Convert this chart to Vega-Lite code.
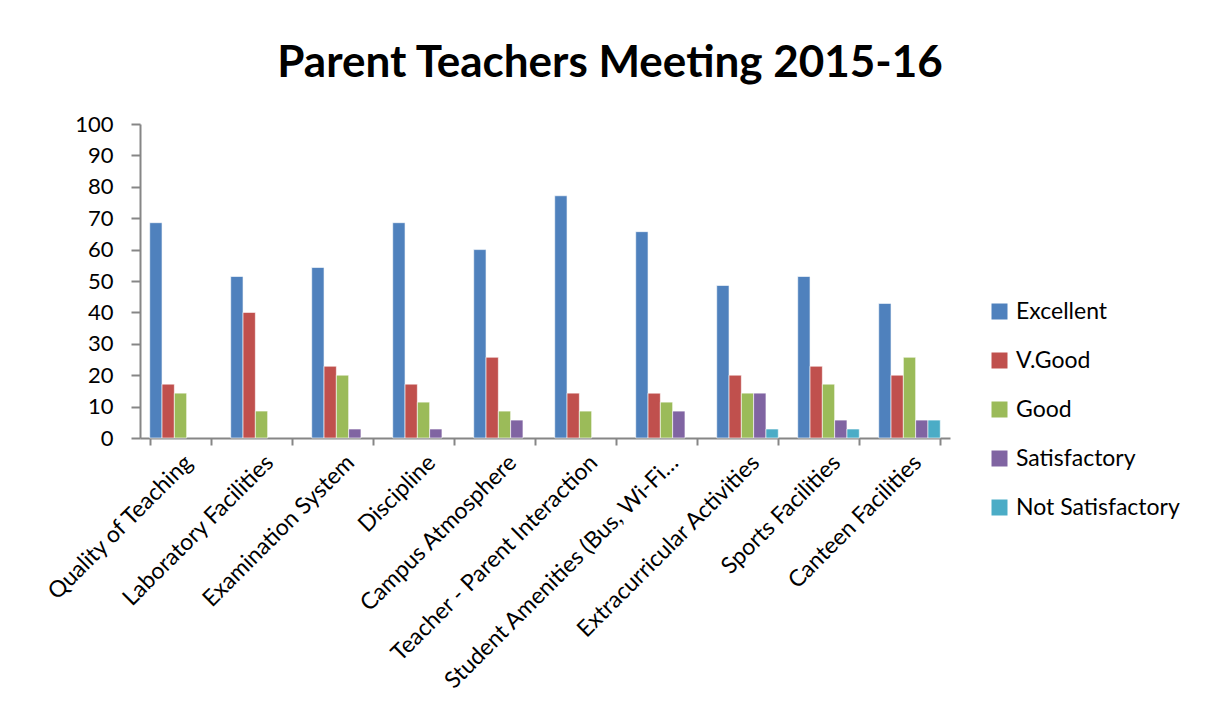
{
  "$schema": "https://vega.github.io/schema/vega-lite/v6.json",
  "autosize": {"type": "none"},
  "width": 810,
  "height": 314,
  "padding": {"left": 140, "top": 124, "right": 257, "bottom": 275},
  "background": "white",
  "title": {
    "text": "Parent Teachers Meeting 2015-16",
    "font": "Lato",
    "fontSize": 44,
    "fontWeight": "bold",
    "color": "#000000",
    "anchor": "middle",
    "frame": "group",
    "dx": 65,
    "offset": 27
  },
  "data": {
    "values": [
      {"category": "Quality of Teaching", "rating": "Excellent", "value": 68.57},
      {"category": "Quality of Teaching", "rating": "V.Good", "value": 17.14},
      {"category": "Quality of Teaching", "rating": "Good", "value": 14.29},
      {"category": "Laboratory Facilities", "rating": "Excellent", "value": 51.43},
      {"category": "Laboratory Facilities", "rating": "V.Good", "value": 40},
      {"category": "Laboratory Facilities", "rating": "Good", "value": 8.57},
      {"category": "Examination System", "rating": "Excellent", "value": 54.29},
      {"category": "Examination System", "rating": "V.Good", "value": 22.86},
      {"category": "Examination System", "rating": "Good", "value": 20},
      {"category": "Examination System", "rating": "Satisfactory", "value": 2.86},
      {"category": "Discipline", "rating": "Excellent", "value": 68.57},
      {"category": "Discipline", "rating": "V.Good", "value": 17.14},
      {"category": "Discipline", "rating": "Good", "value": 11.43},
      {"category": "Discipline", "rating": "Satisfactory", "value": 2.86},
      {"category": "Campus Atmosphere", "rating": "Excellent", "value": 60},
      {"category": "Campus Atmosphere", "rating": "V.Good", "value": 25.71},
      {"category": "Campus Atmosphere", "rating": "Good", "value": 8.57},
      {"category": "Campus Atmosphere", "rating": "Satisfactory", "value": 5.71},
      {"category": "Teacher - Parent Interaction", "rating": "Excellent", "value": 77.14},
      {"category": "Teacher - Parent Interaction", "rating": "V.Good", "value": 14.29},
      {"category": "Teacher - Parent Interaction", "rating": "Good", "value": 8.57},
      {"category": "Student Amenities (Bus, Wi-Fi…", "rating": "Excellent", "value": 65.71},
      {"category": "Student Amenities (Bus, Wi-Fi…", "rating": "V.Good", "value": 14.29},
      {"category": "Student Amenities (Bus, Wi-Fi…", "rating": "Good", "value": 11.43},
      {"category": "Student Amenities (Bus, Wi-Fi…", "rating": "Satisfactory", "value": 8.57},
      {"category": "Extracurricular Activities", "rating": "Excellent", "value": 48.57},
      {"category": "Extracurricular Activities", "rating": "V.Good", "value": 20},
      {"category": "Extracurricular Activities", "rating": "Good", "value": 14.29},
      {"category": "Extracurricular Activities", "rating": "Satisfactory", "value": 14.29},
      {"category": "Extracurricular Activities", "rating": "Not Satisfactory", "value": 2.86},
      {"category": "Sports Facilities", "rating": "Excellent", "value": 51.43},
      {"category": "Sports Facilities", "rating": "V.Good", "value": 22.86},
      {"category": "Sports Facilities", "rating": "Good", "value": 17.14},
      {"category": "Sports Facilities", "rating": "Satisfactory", "value": 5.71},
      {"category": "Sports Facilities", "rating": "Not Satisfactory", "value": 2.86},
      {"category": "Canteen Facilities", "rating": "Excellent", "value": 42.86},
      {"category": "Canteen Facilities", "rating": "V.Good", "value": 20},
      {"category": "Canteen Facilities", "rating": "Good", "value": 25.71},
      {"category": "Canteen Facilities", "rating": "Satisfactory", "value": 5.71},
      {"category": "Canteen Facilities", "rating": "Not Satisfactory", "value": 5.71}
    ]
  },
  "mark": {"type": "bar", "stroke": "white", "strokeWidth": 0.6},
  "encoding": {
    "x": {
      "field": "category",
      "type": "nominal",
      "sort": null,
      "scale": {"paddingInner": 0.24, "paddingOuter": 0.12},
      "axis": {
        "title": null,
        "labelAngle": -45,
        "labelAlign": "right",
        "labelBaseline": "top",
        "labelFont": "Lato",
        "labelFontSize": 23,
        "labelColor": "#000000",
        "labelPadding": 6,
        "labelLimit": 500,
        "tickBand": "extent",
        "tickSize": 7,
        "tickColor": "#868686",
        "tickWidth": 2,
        "domainColor": "#868686",
        "domainWidth": 2
      }
    },
    "xOffset": {
      "field": "rating",
      "type": "nominal",
      "sort": ["Excellent", "V.Good", "Good", "Satisfactory", "Not Satisfactory"],
      "scale": {"domain": ["Excellent", "V.Good", "Good", "Satisfactory", "Not Satisfactory"], "paddingInner": 0, "paddingOuter": 0}
    },
    "y": {
      "field": "value",
      "type": "quantitative",
      "scale": {"domain": [0, 100]},
      "axis": {
        "title": null,
        "values": [0, 10, 20, 30, 40, 50, 60, 70, 80, 90, 100],
        "grid": false,
        "labelFont": "Lato",
        "labelFontSize": 22,
        "labelColor": "#000000",
        "labelPadding": 18,
        "tickSize": 9,
        "tickColor": "#868686",
        "tickWidth": 2,
        "domainColor": "#868686",
        "domainWidth": 2
      }
    },
    "color": {
      "field": "rating",
      "type": "nominal",
      "scale": {
        "domain": ["Excellent", "V.Good", "Good", "Satisfactory", "Not Satisfactory"],
        "range": ["#4F81BD", "#C0504D", "#9BBB59", "#8064A2", "#4BACC6"]
      },
      "legend": {
        "title": null,
        "orient": "none",
        "legendX": 848,
        "legendY": 176,
        "symbolType": "square",
        "symbolSize": 256,
        "symbolStrokeWidth": 0,
        "labelFont": "Lato",
        "labelFontSize": 23,
        "labelColor": "#000000",
        "labelOffset": 5,
        "labelLimit": 300,
        "rowPadding": 25
      }
    }
  },
  "config": {"view": {"stroke": null}}
}
